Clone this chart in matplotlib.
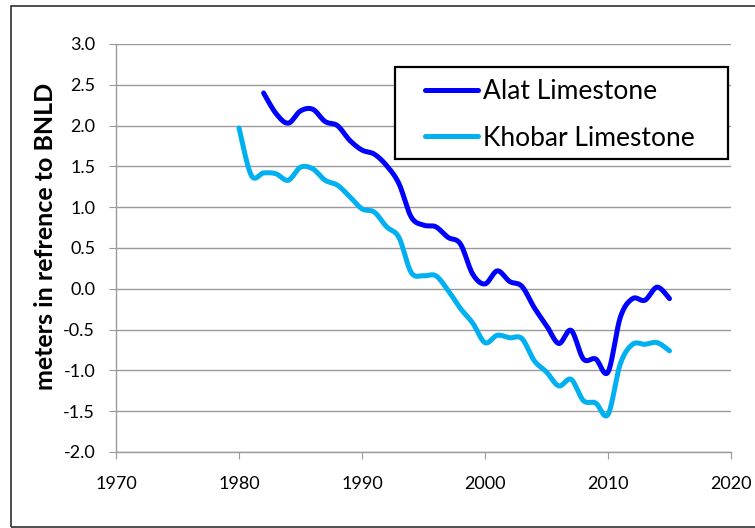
import numpy as np
import matplotlib
matplotlib.use("Agg")
import matplotlib.pyplot as plt
from matplotlib.patches import Rectangle

plt.rcParams['font.family'] = ['Lato', 'DejaVu Sans']

alat_years = list(range(1982, 2016))
alat_vals = [2.40, 2.15, 2.03, 2.18, 2.20, 2.05, 2.00, 1.82, 1.70, 1.65, 1.51,
             1.29, 0.88, 0.78, 0.76, 0.63, 0.55, 0.18, 0.06, 0.22, 0.09, 0.03,
             -0.23, -0.45, -0.67, -0.51, -0.86, -0.86, -1.02, -0.35, -0.12,
             -0.14, 0.02, -0.12]

khobar_years = list(range(1980, 2016))
khobar_vals = [1.97, 1.39, 1.42, 1.41, 1.33, 1.49, 1.47, 1.33, 1.27, 1.13, 0.98,
               0.94, 0.76, 0.63, 0.20, 0.16, 0.16, -0.02, -0.24, -0.42, -0.66,
               -0.57, -0.60, -0.61, -0.88, -1.02, -1.19, -1.11, -1.37, -1.40,
               -1.54, -0.92, -0.68, -0.68, -0.66, -0.76]

series_names = ["Alat Limestone", "Khobar Limestone"]
series_colors = ["#0000FF", "#00B0F0"]
x_ticks = [1970, 1980, 1990, 2000, 2010, 2020]
y_ticks = [-2.0, -1.5, -1.0, -0.5, 0.0, 0.5, 1.0, 1.5, 2.0, 2.5, 3.0]
y_label = "meters in refrence to BNLD"

W, H = 755, 528


def smooth(xs, ys, n=20):
    """Excel-style smoothed line (Bezier through the data points)."""
    x = np.asarray(xs, float)
    y = np.asarray(ys, float)
    px = np.concatenate([[x[0]], x, [x[-1]]])
    py = np.concatenate([[y[0]], y, [y[-1]]])
    outx, outy = [], []
    t = np.linspace(0, 1, n, endpoint=False)
    for i in range(1, len(px) - 2):
        p0x, p1x, p2x, p3x = px[i - 1], px[i], px[i + 1], px[i + 2]
        p0y, p1y, p2y, p3y = py[i - 1], py[i], py[i + 1], py[i + 2]
        c1x = p1x + (p2x - p0x) / 6
        c1y = p1y + (p2y - p0y) / 6
        c2x = p2x - (p3x - p1x) / 6
        c2y = p2y - (p3y - p1y) / 6
        b0 = (1 - t) ** 3
        b1 = 3 * (1 - t) ** 2 * t
        b2 = 3 * (1 - t) * t ** 2
        b3 = t ** 3
        outx.extend(b0 * p1x + b1 * c1x + b2 * c2x + b3 * p2x)
        outy.extend(b0 * p1y + b1 * c1y + b2 * c2y + b3 * p2y)
    outx.append(x[-1])
    outy.append(y[-1])
    return np.array(outx), np.array(outy)


fig = plt.figure(figsize=(W / 100, H / 100), dpi=100)
ax = fig.add_axes([116 / W, 1 - 452 / H, (731 - 116) / W, (452 - 44) / H])

# outer chart border (right edge lies beyond the image)
fig.patches.append(Rectangle((11 / W, 1 - 527 / H), (770 - 11) / W, (527 - 6) / H,
                             transform=fig.transFigure, fill=False,
                             edgecolor="#303030", linewidth=1.2, clip_on=False))

lines = []
for xs, ys, name, col in [(alat_years, alat_vals, series_names[0], series_colors[0]),
                          (khobar_years, khobar_vals, series_names[1], series_colors[1])]:
    sx, sy = smooth(xs, ys)
    ln, = ax.plot(sx, sy, color=col, linewidth=3.6, label=name,
                  solid_capstyle="round", solid_joinstyle="round", zorder=3)
    lines.append(ln)

ax.set_xlim(1970, 2020)
ax.set_ylim(-2.0, 3.0)
ax.set_xticks(x_ticks)
ax.set_yticks(y_ticks)
ax.set_yticklabels([f"{v:.1f}" for v in y_ticks])
ax.set_xticklabels([str(v) for v in x_ticks])

ax.yaxis.grid(True, color="#9a9a9a", linewidth=1.0)
ax.set_axisbelow(True)
for s in ["top", "right"]:
    ax.spines[s].set_visible(False)
for s in ["left", "bottom"]:
    ax.spines[s].set_color("#9a9a9a")
    ax.spines[s].set_linewidth(1.0)
ax.tick_params(axis="both", direction="out", length=5, color="#9a9a9a",
               labelsize=13, labelcolor="#000000")
ax.tick_params(axis="y", pad=10)
ax.tick_params(axis="x", pad=12)

fig.text(46 / W, 1 - 236.5 / H, y_label, rotation=90, ha="center", va="center",
         fontsize=18, fontweight="bold")

# legend box
fig.patches.append(Rectangle((395 / W, 1 - 159 / H), (728 - 395) / W, (159 - 67) / H,
                             transform=fig.transFigure, fill=True, facecolor="white",
                             edgecolor="#000000", linewidth=1.6, zorder=5))
leg = fig.legend(handles=lines, labels=series_names, loc="upper left",
                 bbox_to_anchor=(425 / W, 1 - 79 / H), fontsize=19, frameon=False,
                 handlelength=2.0, handletextpad=0.2, borderpad=0,
                 labelspacing=0.82, borderaxespad=0)
leg.set_zorder(6)

fig.savefig("out.png", dpi=100)
